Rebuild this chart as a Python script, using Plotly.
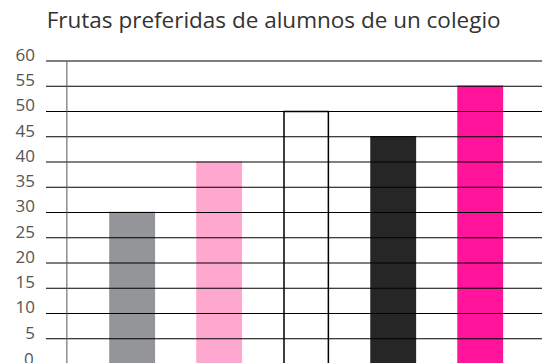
import plotly.graph_objects as go

# Preferred fruits survey
frutas = ["Fruta A", "Fruta B", "Fruta C", "Fruta D", "Fruta E"]
alumnos = [30, 40, 50, 45, 55]
colores = ["#939598", "#ffa8cf", "#ffffff", "#262626", "#ff149b"]
bordes = ["#939598", "#ffa8cf", "#000000", "#262626", "#ff149b"]
ticks_y = [0, 5, 10, 15, 20, 25, 30, 35, 40, 45, 50, 55, 60]

x_pos = list(range(len(frutas)))
label_font = dict(family="Open Sans", size=17, color="#555555")

fig = go.Figure(
    go.Bar(
        x=x_pos,
        y=alumnos,
        width=0.51,
        marker=dict(color=colores, line=dict(color=bordes, width=1.5)),
        hovertext=frutas,
        showlegend=False,
    )
)

# horizontal rules drawn over the bars
for v in ticks_y:
    fig.add_shape(
        type="line", xref="paper", x0=0, x1=1, yref="y", y0=v, y1=v,
        line=dict(color="#000000", width=1), layer="above",
    )

# vertical axis line
fig.add_shape(
    type="line", xref="x", x0=-0.75, x1=-0.75, yref="y", y0=0, y1=60,
    line=dict(color="#555555", width=1), layer="above",
)

# baseline label sits just below the bottom edge of the plot area
fig.add_annotation(
    text=str(ticks_y[0]), xref="paper", x=0, xanchor="right", xshift=-10,
    yref="paper", y=0, yanchor="middle", yshift=5,
    showarrow=False, font=label_font,
)

fig.update_layout(
    width=542,
    height=363,
    margin=dict(l=46, r=0, t=60, b=0),
    paper_bgcolor="white",
    plot_bgcolor="white",
    title=dict(
        text="Frutas preferidas de alumnos de un colegio",
        x=0.505, xanchor="center", y=0.945, yanchor="middle",
        font=dict(family="Open Sans", size=22.5, color="#333333"),
    ),
    xaxis=dict(
        range=[-0.99, 4.71], showticklabels=False, showgrid=False,
        zeroline=False, showline=False, ticks="",
    ),
    yaxis=dict(
        range=[0.2, 60.2], tickvals=ticks_y, showgrid=False, zeroline=False,
        showline=False, ticks="", ticklabelstandoff=10, ticklabelshift=-6,
        ticklabeloverflow="allow", tickfont=label_font,
    ),
    bargap=0.5,
)

fig.write_html("out.html")
